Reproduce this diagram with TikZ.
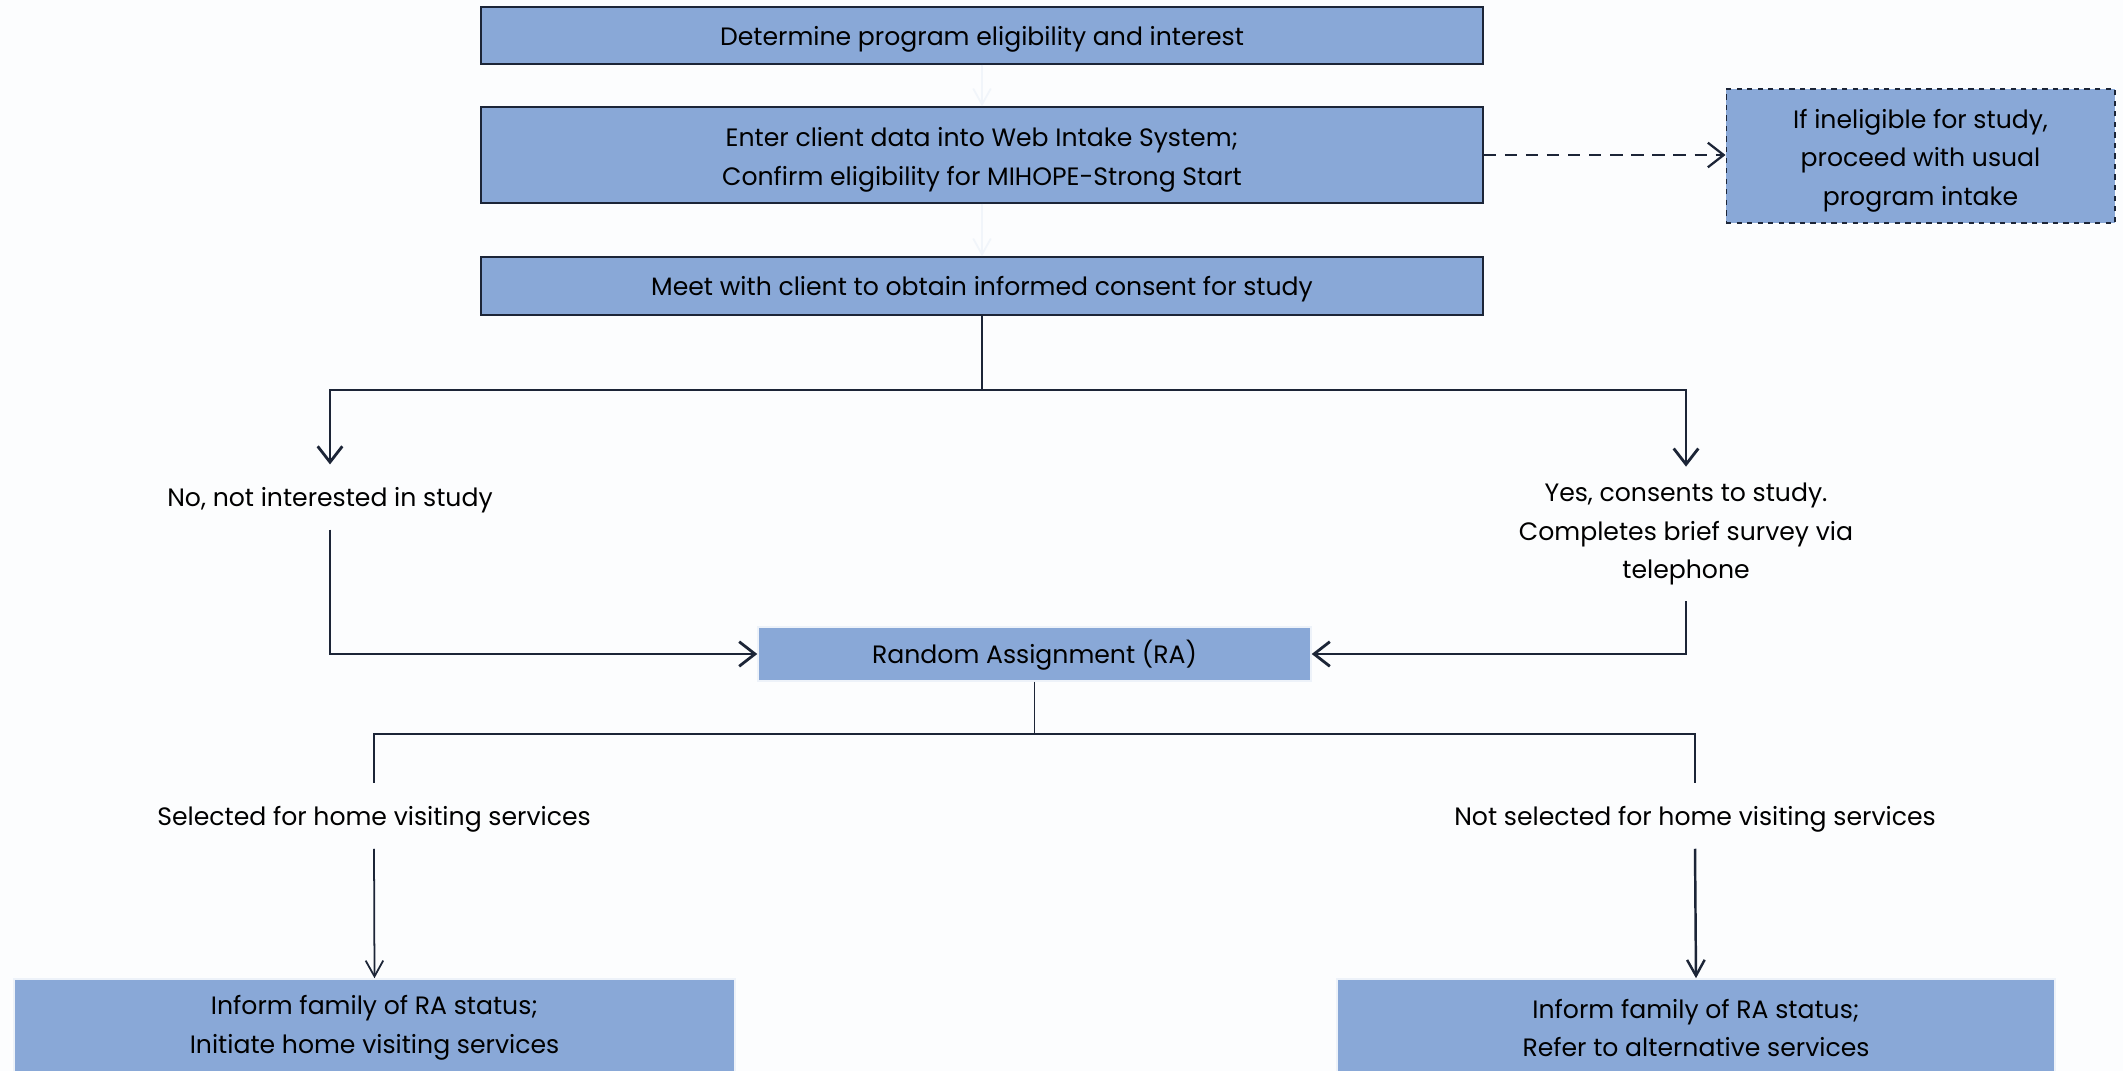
\documentclass[tikz,border=0pt]{standalone}
\usepackage{fontspec}
\setmainfont{Poppins}
\usepackage{tikz}
\usetikzlibrary{positioning, arrows, arrows.meta, shapes}
\definecolor{boxblue}{HTML}{89A8D7}
\definecolor{linedark}{HTML}{1C2537}
\definecolor{paper}{HTML}{FCFDFE}
\tikzstyle{arrow} = [line width=1.6pt,->,>={Straight Barb[length=9pt,width=14pt]},draw=linedark]
\tikzstyle{thinarrow} = [line width=1pt,->,>={Straight Barb[length=9pt,width=10pt]},draw=linedark]
\tikzset{stepbox/.style={
    draw=linedark, line width=0.9pt, fill=boxblue,
    align=center, inner sep=0pt, font=\fontsize{14.3}{22}\selectfont,
    execute at begin node=\rule{0pt}{1.05em}
  },
  softbox/.style={
    stepbox, draw=white!85!boxblue
  },
  answer/.style={
    align=center, inner sep=9pt, font=\fontsize{14.3}{22}\selectfont,
    execute at begin node=\rule{0pt}{1.05em}
  },
}
\newcommand{\lift}{\rule{0pt}{1.12em}}

\begin{document}
\begin{tikzpicture}[x=0.02cm, y=-0.02cm]
        \fill[paper] (0,0) rectangle (2123,1071);
        \useasboundingbox (0,0) rectangle (2123,1071);

        \node[stepbox, minimum width=20.04cm, minimum height=1.14cm] (eligible) at (982,35.5)
            {Determine program eligibility and interest};
        \node[stepbox, minimum width=20.04cm, minimum height=1.92cm] (intake) at (982,155)
            {\lift Enter client data into Web Intake System;\\Confirm eligibility for MIHOPE-Strong Start};
        \node[stepbox, minimum width=20.04cm, minimum height=1.16cm] (consent) at (982,286)
            {Meet with client to obtain informed consent for study};
        \node[stepbox, dashed, line width=0.6pt, minimum width=7.78cm, minimum height=2.68cm] (usual) at (1920.5,156)
            {\lift If ineligible for study,\\proceed with usual\\program intake};

        \node[answer] (no) at (330,497) {No, not interested in study};
        \node[answer] (yes) at (1686,534) {Yes, consents to study.\\Completes brief survey via\\telephone};

        \node[softbox, minimum width=11.06cm, minimum height=1.08cm] (ra) at (1034.5,654) {Random Assignment (RA)};

        \node[answer] (sel) at (374,816) {Selected for home visiting services};
        \node[answer] (notsel) at (1695,816) {Not selected for home visiting services};

        \node[softbox, minimum width=14.42cm, minimum height=1.96cm] (selbox) at (374.5,1028)
            {Inform family of RA status;\\Initiate home visiting services};
        \node[softbox, minimum width=14.36cm, minimum height=1.96cm] (notselbox) at (1696,1028)
            {Inform family of RA status;\\Refer to alternative services};

        % faint arrows between the top boxes
        \draw[thinarrow, draw=white!88!boxblue] (eligible) -- (intake);
        \draw[thinarrow, draw=white!88!boxblue] (intake) -- (consent);
        \draw[arrow, dash pattern=on 7pt off 5pt, line width=1.3pt] (intake.east) -- (intake.east -| usual.west);

        % consent split
        \coordinate (split) at (982,390);
        \draw[line width=1.6pt, draw=linedark] (consent.south) -- (split);
        \draw[arrow] (split) -| (no.north);
        \draw[arrow] (split) -| (yes.north);
        \draw[arrow] (no.south) |- (ra.west);
        \draw[arrow] (yes.south) |- (ra.east);

        % RA split
        \coordinate (rasplit) at (1034.5,734);
        \draw[line width=0.8pt, draw=linedark] (ra.south) -- (rasplit);
        \draw[line width=1.4pt, draw=linedark] (rasplit) -| (sel.north);
        \draw[line width=1.4pt, draw=linedark] (rasplit) -| (notsel.north);
        \draw[thinarrow] (sel.south) -- (selbox.north);
        \draw[thinarrow, line width=1.4pt] (notsel.south) -- (notselbox.north);
    \end{tikzpicture}
\end{document}
